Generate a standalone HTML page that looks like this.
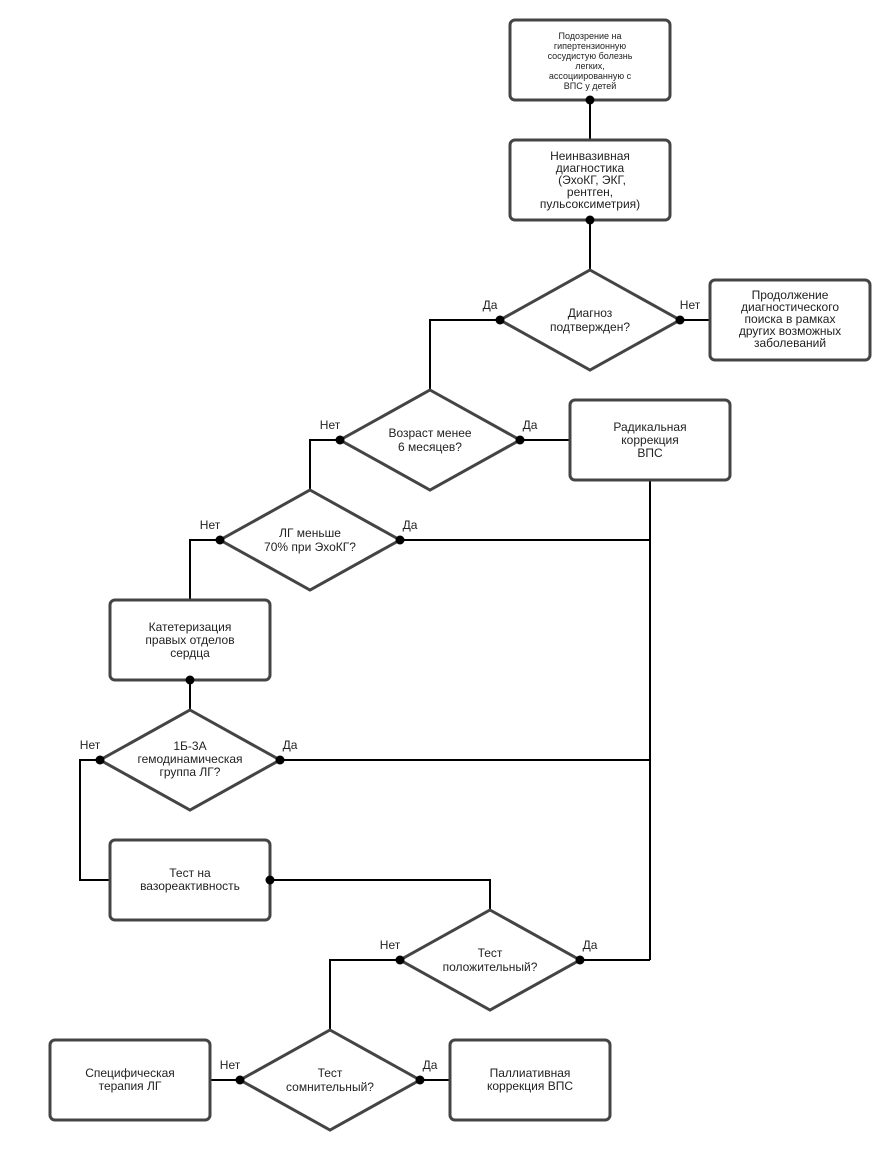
<!DOCTYPE html>
<html><head><meta charset="utf-8"><style>
html,body{margin:0;padding:0;background:#fff}
svg{display:block}
text{font-family:"Liberation Sans",Arial,sans-serif;font-size:12px;fill:#222;text-anchor:middle}
.s{font-size:9px}
.b{fill:#fff;stroke:#444;stroke-width:3}
.l{fill:none;stroke:#000;stroke-width:2}
</style></head><body>
<svg width="879" height="1149" viewBox="0 0 879 1149">
<g class="l">
<path d="M590 100V140M590 220V270M500 320H430V390M680 320H710M340 440H310V490M520 440H570M220 540H190V600M400 540H650M650 480V960M280 760H650M100 760H80V880H110M190 680V710M270 880H490V910M580 960H650M400 960H330V1030M240 1080H210M420 1080H450"/>
</g>
<rect class="b" x="510" y="20" width="160" height="80" rx="5"/>
<rect class="b" x="510" y="140" width="160" height="80" rx="5"/>
<rect class="b" x="710" y="280" width="160" height="80" rx="5"/>
<rect class="b" x="570" y="400" width="160" height="80" rx="5"/>
<rect class="b" x="110" y="600" width="160" height="80" rx="5"/>
<rect class="b" x="110" y="840" width="160" height="80" rx="5"/>
<rect class="b" x="50" y="1040" width="160" height="80" rx="5"/>
<rect class="b" x="450" y="1040" width="160" height="80" rx="5"/>
<polygon class="b" points="590,270 680,320 590,370 500,320"/>
<polygon class="b" points="430,390 520,440 430,490 340,440"/>
<polygon class="b" points="310,490 400,540 310,590 220,540"/>
<polygon class="b" points="190,710 280,760 190,810 100,760"/>
<polygon class="b" points="490,910 580,960 490,1010 400,960"/>
<polygon class="b" points="330,1030 420,1080 330,1130 240,1080"/>
<g fill="#000">
<circle cx="590" cy="100" r="4.5"/><circle cx="590" cy="220" r="4.5"/>
<circle cx="500" cy="320" r="4.5"/><circle cx="680" cy="320" r="4.5"/>
<circle cx="340" cy="440" r="4.5"/><circle cx="520" cy="440" r="4.5"/>
<circle cx="220" cy="540" r="4.5"/><circle cx="400" cy="540" r="4.5"/>
<circle cx="190" cy="680" r="4.5"/>
<circle cx="100" cy="760" r="4.5"/><circle cx="280" cy="760" r="4.5"/>
<circle cx="270" cy="880" r="4.5"/>
<circle cx="400" cy="960" r="4.5"/><circle cx="580" cy="960" r="4.5"/>
<circle cx="240" cy="1080" r="4.5"/><circle cx="420" cy="1080" r="4.5"/>
</g>
<text class="s"><tspan x="590" y="39">Подозрение на</tspan><tspan x="590" y="49">гипертензионную</tspan><tspan x="590" y="59">сосудистую болезнь</tspan><tspan x="590" y="69">легких,</tspan><tspan x="590" y="79">ассоциированную с</tspan><tspan x="590" y="89">ВПС у детей</tspan></text>
<text><tspan x="590" y="160">Неинвазивная</tspan><tspan x="590" y="172">диагностика</tspan><tspan x="592" y="184">(ЭхоКГ, ЭКГ,</tspan><tspan x="590" y="196">рентген,</tspan><tspan x="590" y="208">пульсоксиметрия)</tspan></text>
<text><tspan x="590" y="317">Диагноз</tspan><tspan x="590" y="331">подтвержден?</tspan></text>
<text><tspan x="790" y="299">Продолжение</tspan><tspan x="790" y="311">диагностического</tspan><tspan x="790" y="323">поиска в рамках</tspan><tspan x="790" y="335">других возможных</tspan><tspan x="790" y="347">заболеваний</tspan></text>
<text x="490" y="309">Да</text><text x="690" y="309">Нет</text>
<text><tspan x="430" y="437">Возраст менее</tspan><tspan x="430" y="451">6 месяцев?</tspan></text>
<text x="330" y="429">Нет</text><text x="530" y="429">Да</text>
<text><tspan x="650" y="431">Радикальная</tspan><tspan x="650" y="444">коррекция</tspan><tspan x="650" y="457">ВПС</tspan></text>
<text><tspan x="310" y="537">ЛГ меньше</tspan><tspan x="310" y="551">70% при ЭхоКГ?</tspan></text>
<text x="210" y="529">Нет</text><text x="410" y="529">Да</text>
<text><tspan x="190" y="631">Катетеризация</tspan><tspan x="190" y="644">правых отделов</tspan><tspan x="190" y="657">сердца</tspan></text>
<text><tspan x="190" y="750">1Б-3А</tspan><tspan x="190" y="763">гемодинамическая</tspan><tspan x="190" y="776">группа ЛГ?</tspan></text>
<text x="90" y="749">Нет</text><text x="290" y="749">Да</text>
<text><tspan x="190" y="877">Тест на</tspan><tspan x="190" y="890">вазореактивность</tspan></text>
<text><tspan x="490" y="957">Тест</tspan><tspan x="490" y="971">положительный?</tspan></text>
<text x="390" y="949">Нет</text><text x="590" y="949">Да</text>
<text><tspan x="330" y="1077">Тест</tspan><tspan x="330" y="1091">сомнительный?</tspan></text>
<text x="230" y="1069">Нет</text><text x="430" y="1069">Да</text>
<text><tspan x="130" y="1077">Специфическая</tspan><tspan x="130" y="1090">терапия ЛГ</tspan></text>
<text><tspan x="530" y="1077">Паллиативная</tspan><tspan x="530" y="1090">коррекция ВПС</tspan></text>
</svg>
</body></html>
